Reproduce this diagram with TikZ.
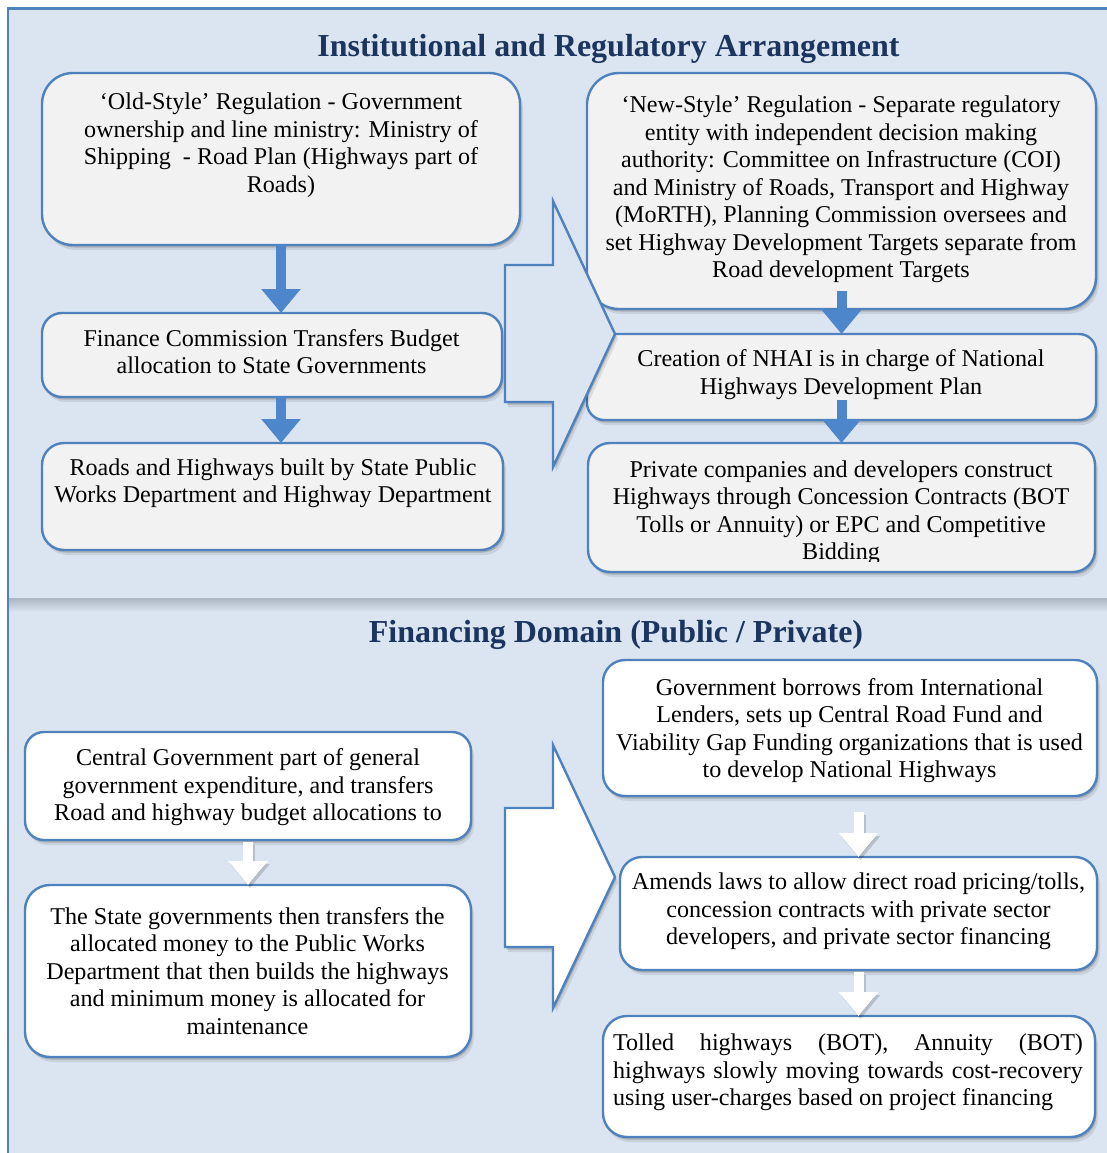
\documentclass[tikz,border=0pt]{standalone}
\usepackage{fontspec}
\setmainfont{Liberation Serif}
\usetikzlibrary{arrows.meta,shadows}

\definecolor{panelfill}{HTML}{DBE5F1}
\definecolor{frameblue}{HTML}{4F81BD}
\definecolor{arrowblue}{HTML}{4D86CA}
\definecolor{titleblue}{HTML}{1C355E}
\definecolor{boxgrey}{HTML}{F2F2F2}
\definecolor{bandgrey}{HTML}{ACB6C2}

\tikzset{
  softshadow/.style={
    drop shadow={shadow xshift=1.5pt, shadow yshift=-2.5pt, opacity=0.16, fill=black},
    drop shadow={shadow xshift=3pt, shadow yshift=-5pt, opacity=0.09, fill=black}},
  card/.style={draw=frameblue, line width=2.4pt, rounded corners=#1,
    inner sep=0pt, outer sep=0pt, softshadow},
  card/.default=22pt,
  greycard/.style={card=#1, fill=boxgrey},
  greycard/.default=22pt,
  whitecard/.style={card=#1, fill=white},
  whitecard/.default=22pt,
  bodytext/.style={font=\fontsize{24.1}{27.5}\selectfont, align=center,
    inner sep=0pt, text=black},
  heading/.style={font=\fontsize{32}{36}\selectfont\bfseries, text=titleblue,
    inner sep=0pt},
  bluearrow/.style={draw=arrowblue, line width=10pt,
    -{Triangle[width=38pt,length=24pt]}},
  whitearrow/.style={draw=white, line width=10pt,
    -{Triangle[width=38pt,length=24pt]}},
  whitearrowshadow/.style={draw=black, opacity=0.16, line width=10pt,
    -{Triangle[width=38pt,length=24pt]},
    transform canvas={xshift=2pt, yshift=-3pt}},
  blockarrow/.style={draw=frameblue, line width=2.4pt, line join=miter, softshadow},
}

\begin{document}
\begin{tikzpicture}[x=1pt, y=-1pt]
\useasboundingbox (0,0) rectangle (1107,1153);
\fill[white] (0,0) rectangle (1107,1153);
\begin{scope}
\clip (0,0) rectangle (1107,1153);

% two panels and the band between them
\fill[panelfill] (8,8.5) rectangle (1120,600);
\fill[panelfill] (8,600) rectangle (1120,1160);
\shade[top color=bandgrey, bottom color=panelfill] (8,598) rectangle (1120,612);
\draw[frameblue, line width=2.6pt] (8,1160) -- (8,8.5) -- (1120,8.5);

% headings
\node[heading] (insthead) at (608.5,49) {Institutional and Regulatory Arrangement};
\node[heading] (finhead) at (616,635) {Financing Domain (Public / Private)};

% institutional boxes, left column
\node[greycard=31pt, minimum width=478pt, minimum height=172pt] (oldreg) at (281,159) {};
\node[greycard=20pt, minimum width=460pt, minimum height=84pt] (fincom) at (272,355) {};
\node[greycard=22pt, minimum width=461pt, minimum height=107pt] (statepwd) at (272.5,496.5) {};

% institutional boxes, right column
\node[greycard=32pt, minimum width=509pt, minimum height=236pt] (newreg) at (841.5,191) {};
\node[greycard=17pt, minimum width=509pt, minimum height=86pt] (nhai) at (841.5,377) {};
\node[greycard=22pt, minimum width=507pt, minimum height=129pt] (private) at (841.5,507.5) {};

% financing boxes
\node[whitecard=19pt, minimum width=446pt, minimum height=108pt] (central) at (248,786) {};
\node[whitecard=25pt, minimum width=446pt, minimum height=172pt] (statetr) at (248,971) {};
\node[whitecard=22pt, minimum width=494pt, minimum height=136pt] (borrow) at (850,728) {};
\node[whitecard=22pt, minimum width=477pt, minimum height=113pt] (amend) at (858.5,913.5) {};
\node[whitecard=24pt, minimum width=492pt, minimum height=121pt] (tolled) at (849,1076.5) {};

% block arrows from old style to new style
\path[blockarrow, fill=panelfill] (505,265) -- (553,265) -- (553,201) -- (615,334)
  -- (553,467) -- (553,402) -- (505,402) -- cycle;
\path[blockarrow, fill=white] (505,808) -- (553,808) -- (553,745) -- (615,877)
  -- (553,1008) -- (553,947) -- (505,947) -- cycle;

% flow arrows
\draw[bluearrow] (oldreg.south) -- (oldreg.south |- fincom.north);
\draw[bluearrow] (oldreg.south |- fincom.south) -- (oldreg.south |- statepwd.north);
\draw[bluearrow, shorten <=-18pt] (newreg.south) -- (newreg.south |- nhai.north);
\draw[bluearrow, shorten <=-20pt] (nhai.south) -- (nhai.south |- private.north);

\draw[whitearrowshadow, shorten <=2pt] (central.south) -- (central.south |- statetr.north);
\draw[whitearrowshadow, shorten <=16pt] (amend.north |- borrow.south) -- (amend.north);
\draw[whitearrowshadow, shorten <=2pt] (amend.south) -- (amend.south |- tolled.north);
\draw[whitearrow, shorten <=2pt] (central.south) -- (central.south |- statetr.north);
\draw[whitearrow, shorten <=16pt] (amend.north |- borrow.south) -- (amend.north);
\draw[whitearrow, shorten <=2pt] (amend.south) -- (amend.south |- tolled.north);

% texts
\node[bodytext] (oldtxt) at (281,145) {‘Old-Style’ Regulation - Government\\ownership and line ministry: Ministry of\\Shipping\ \ - Road Plan (Highways part of\\Roads)};
\node[bodytext] (fintxt) at (271.5,351.5) {Finance Commission Transfers Budget\\allocation to State Governments};
\node[bodytext] (pwdtxt) at (273,483) {Roads and Highways built by State Public\\Works Department and Highway Department};
\node[bodytext] (newtxt) at (841,189.5) {‘New-Style’ Regulation - Separate regulatory\\entity with independent decision making\\authority: Committee on Infrastructure (COI)\\and Ministry of Roads, Transport and Highway\\(MoRTH), Planning Commission oversees and\\set Highway Development Targets separate from\\Road development Targets};
\node[bodytext] (nhaitxt) at (841,374.5) {Creation of NHAI is in charge of National\\Highways Development Plan};
\begin{scope}
\clip (588,440) rectangle (1097,561);
\node[bodytext] (privtxt) at (841,512.5) {Private companies and developers construct\\Highways through Concession Contracts (BOT\\Tolls or Annuity) or EPC and Competitive\\Bidding};
\end{scope}

\node[bodytext] (centtxt) at (248,787.5) {Central Government part of general\\government expenditure, and transfers\\Road and highway budget allocations to};
\node[bodytext] (statetxt) at (247.5,971) {The State governments then transfers the\\allocated money to the Public Works\\Department that then builds the highways\\and minimum money is allocated for\\maintenance};
\node[bodytext] (borrtxt) at (849.5,730.5) {Government borrows from International\\Lenders, sets up Central Road Fund and\\Viability Gap Funding organizations that is used\\to develop National Highways};
\node[bodytext] (amendtxt) at (858.5,911.5) {Amends laws to allow direct road pricing/tolls,\\concession contracts with private sector\\developers, and private sector financing};
\node[bodytext, align=left] (tolltxt) at (848,1072.5) {\makebox[470pt][s]{Tolled highways (BOT), Annuity (BOT)}\\\makebox[470pt][s]{highways slowly moving towards cost-recovery}\\using user-charges based on project financing};
\end{scope}
\end{tikzpicture}
\end{document}
